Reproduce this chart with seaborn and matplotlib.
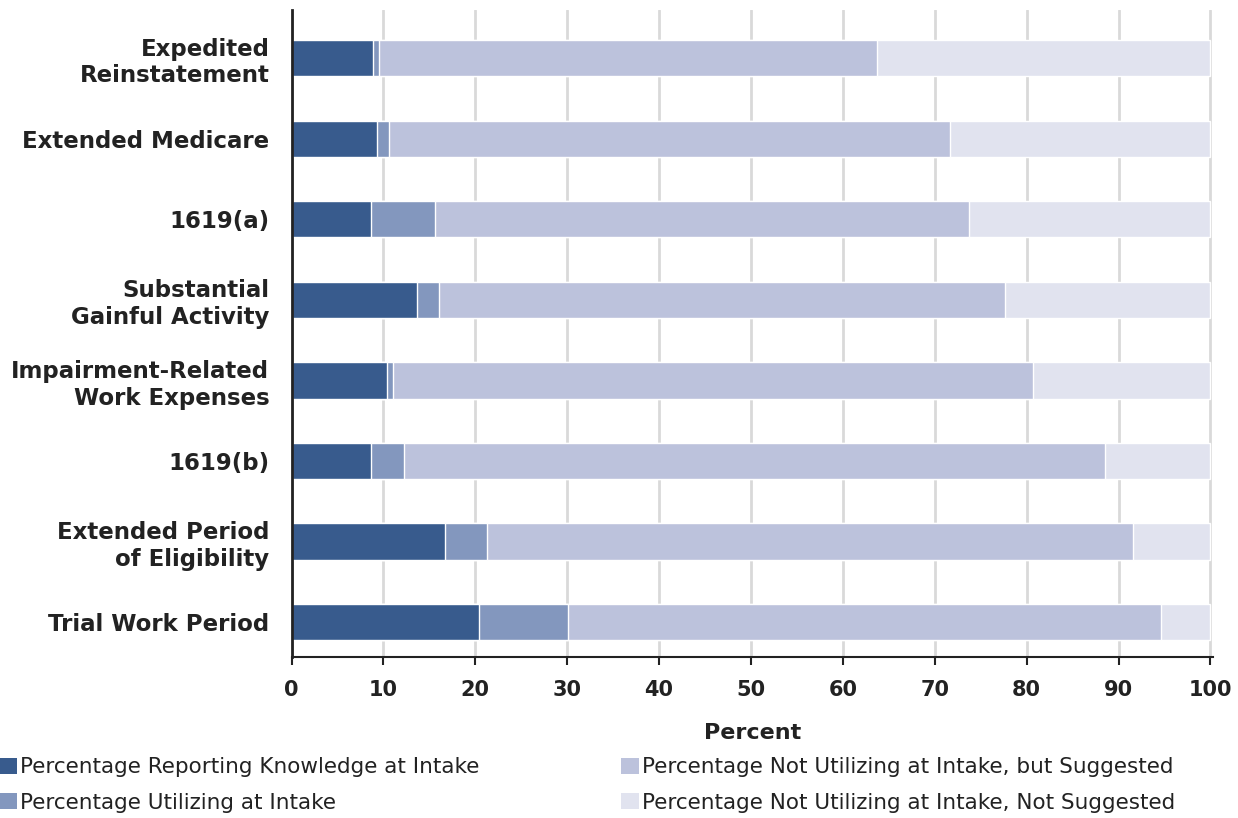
import matplotlib
matplotlib.use("Agg")
import matplotlib.pyplot as plt
from matplotlib.patches import Patch
import pandas as pd
import seaborn as sns

# categories top -> bottom
programs = [
    "Expedited\nReinstatement",
    "Extended Medicare",
    "1619(a)",
    "Substantial\nGainful Activity",
    "Impairment-Related\nWork Expenses",
    "1619(b)",
    "Extended Period\nof Eligibility",
    "Trial Work Period",
]
knowledge = [8.9, 9.3, 8.6, 13.7, 10.4, 8.6, 16.7, 20.4]
utilizing = [0.6, 1.3, 7.0, 2.4, 0.6, 3.6, 4.6, 9.7]
suggested = [54.2, 61.0, 58.1, 61.5, 69.7, 76.3, 70.3, 64.5]
not_suggested = [36.3, 28.4, 26.3, 22.4, 19.3, 11.5, 8.4, 5.4]

series_names = [
    "Percentage Reporting Knowledge at Intake",
    "Percentage Utilizing at Intake",
    "Percentage Not Utilizing at Intake, but Suggested",
    "Percentage Not Utilizing at Intake, Not Suggested",
]
colors = ["#385b8d", "#8397be", "#bcc2dc", "#e1e3ef"]

df = pd.DataFrame({
    "program": programs,
    "knowledge": knowledge,
    "utilizing": utilizing,
    "suggested": suggested,
    "not_suggested": not_suggested,
})
cols = ["knowledge", "utilizing", "suggested", "not_suggested"]
cum = df[cols].cumsum(axis=1)

sns.set_style("white")
plt.rcParams["font.family"] = ["DejaVu Sans"]

fig = plt.figure(figsize=(12.38, 8.18), dpi=100)
ax = fig.add_axes([0.2355, 0.197, 0.7445, 0.791])

# stacked bars: draw cumulative totals, widest first
for col, color in zip(cols[::-1], colors[::-1]):
    sns.barplot(x=cum[col], y=df["program"], orient="h", color=color,
                width=0.45, ax=ax, saturation=1, zorder=2)

ax.set_xlim(0, 100.3)
ax.set_ylim(7.43, -0.6)
ax.set_xticks(range(0, 101, 10))
ax.grid(axis="x", color="#d9d9d9", linewidth=2, zorder=0)
ax.set_axisbelow(True)

for s in ["top", "right"]:
    ax.spines[s].set_visible(False)
ax.spines["left"].set_color("#222222")
ax.spines["left"].set_linewidth(2)
ax.spines["bottom"].set_color("#222222")
ax.spines["bottom"].set_linewidth(1.5)

ax.tick_params(axis="y", left=False, length=0, pad=16, labelsize=16.5)
ax.tick_params(axis="x", bottom=True, direction="out", length=6, width=1.5,
               color="#222222", labelsize=15, pad=11)
for lbl in ax.get_yticklabels():
    lbl.set_fontweight("bold")
    lbl.set_color("#222222")
for lbl in ax.get_xticklabels():
    lbl.set_fontweight("bold")
    lbl.set_color("#222222")

ax.set_ylabel("")
ax.set_xlabel("Percent", fontsize=16, fontweight="bold", color="#222222", labelpad=16)

handles = [Patch(facecolor=c, edgecolor="none") for c in colors]
leg_kw = dict(loc="upper left", frameon=False, fontsize=15.5, handlelength=0.8,
              handleheight=0.8, handletextpad=0.15, labelspacing=0.7,
              borderaxespad=0, borderpad=0, labelcolor="#222222")
fig.legend(handles[:2], series_names[:2], bbox_to_anchor=(0.0, 0.074), **leg_kw)
fig.legend(handles[2:], series_names[2:], bbox_to_anchor=(0.502, 0.074), **leg_kw)

fig.savefig("out.png", dpi=100)
